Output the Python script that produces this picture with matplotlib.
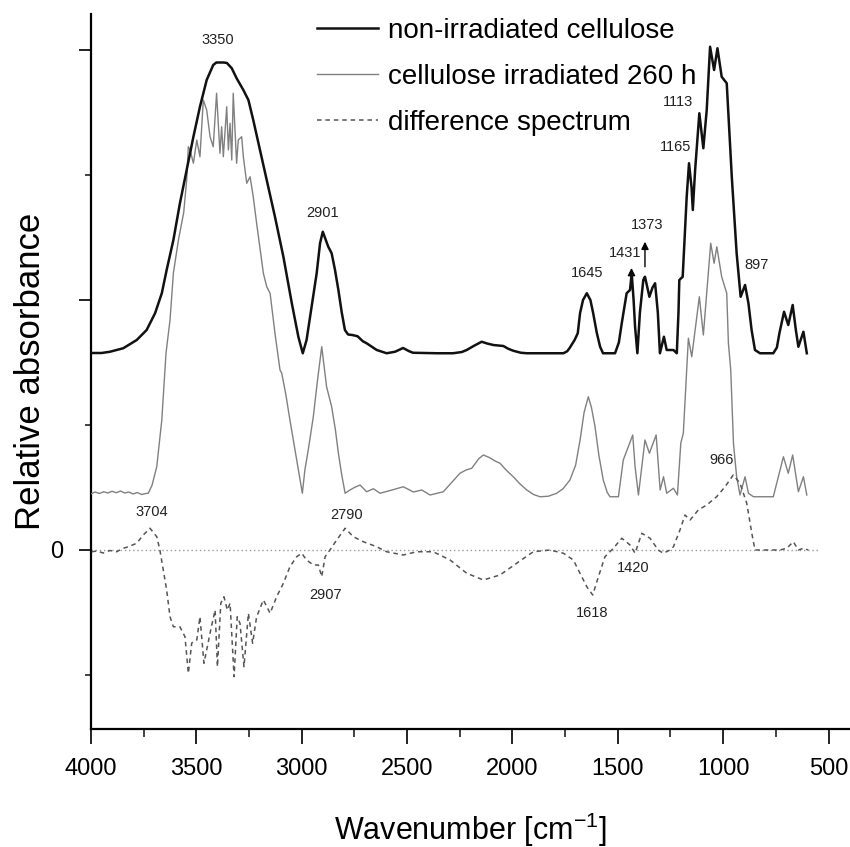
import matplotlib
matplotlib.use("Agg")
import matplotlib.pyplot as plt
from matplotlib.ticker import FixedLocator

plt.rcParams['font.family'] = ['Liberation Sans', 'DejaVu Sans']

# ---- data ----
wn_black = [4000, 3950, 3910, 3847, 3783, 3736, 3696, 3664, 3641, 3609, 3578, 3546, 3514, 3483,
            3451, 3420, 3405, 3390, 3370, 3355, 3332, 3309, 3277, 3253, 3230, 3198, 3166,
            3127, 3087, 3047, 3016, 2995, 2977, 2953, 2929, 2913, 2900, 2874, 2858, 2842,
            2826, 2810, 2795, 2780, 2760, 2735, 2710, 2692, 2644, 2597, 2557, 2519, 2490,
            2472, 2359, 2282, 2240, 2217, 2180, 2146, 2120, 2091, 2043, 2020, 1996, 1960,
            1932, 1758, 1740, 1727, 1705, 1690, 1679, 1665, 1647, 1630, 1617, 1600, 1584,
            1570, 1513, 1495, 1481, 1465, 1458, 1442, 1434, 1425, 1418, 1407, 1395, 1379,
            1371, 1360, 1350, 1335, 1323, 1310, 1300, 1281, 1268, 1236, 1220, 1212, 1208,
            1192, 1173, 1162, 1150, 1144, 1133, 1113, 1094, 1078, 1062, 1043, 1027, 1007,
            983, 959, 936, 917, 896, 880, 865, 849, 825, 762, 745, 733, 711, 691, 670, 655,
            643, 619, 603]
abs_black = [0.788, 0.788, 0.793, 0.807, 0.840, 0.880, 0.947, 1.027, 1.120, 1.240, 1.387,
             1.520, 1.653, 1.773, 1.880, 1.940, 1.950, 1.950, 1.950, 1.948, 1.927, 1.887,
             1.840, 1.800, 1.720, 1.600, 1.480, 1.333, 1.173, 0.987, 0.853, 0.787, 0.840,
             0.973, 1.107, 1.227, 1.273, 1.213, 1.187, 1.120, 1.040, 0.950, 0.880, 0.862,
             0.860, 0.855, 0.835, 0.827, 0.800, 0.787, 0.793, 0.808, 0.795, 0.789, 0.787,
             0.787, 0.792, 0.800, 0.818, 0.833, 0.826, 0.820, 0.816, 0.805, 0.797, 0.789,
             0.787, 0.787, 0.795, 0.810, 0.840, 0.867, 0.948, 1.000, 1.027, 1.000, 0.948,
             0.870, 0.813, 0.787, 0.787, 0.830, 0.908, 0.990, 1.027, 1.040, 1.107, 1.000,
             0.893, 0.787, 0.950, 1.080, 1.093, 1.050, 1.013, 1.050, 1.067, 0.950, 0.787,
             0.853, 0.800, 0.800, 0.787, 0.950, 1.080, 1.093, 1.413, 1.547, 1.450, 1.360,
             1.520, 1.747, 1.607, 1.760, 2.013, 1.920, 2.007, 1.893, 1.867, 1.493, 1.187,
             1.013, 1.060, 0.987, 0.880, 0.800, 0.787, 0.787, 0.810, 0.867, 0.953, 0.900,
             0.980, 0.880, 0.813, 0.873, 0.787]

wn_irr = [4000, 3980, 3960, 3940, 3920, 3900, 3880, 3860, 3840, 3820, 3800, 3780, 3760, 3740,
          3728, 3710, 3688, 3664, 3644, 3625, 3609, 3585, 3560, 3546, 3538, 3530, 3514, 3498,
          3483, 3467, 3451, 3435, 3420, 3404, 3388, 3380, 3372, 3356, 3348, 3340, 3332,
          3325, 3309, 3301, 3285, 3277, 3261, 3245, 3230, 3214, 3182, 3166, 3150, 3127,
          3103, 3095, 3075, 3056, 3040, 3024, 3010, 2997, 2985, 2969, 2945, 2925, 2905,
          2882, 2858, 2840, 2826, 2810, 2794, 2771, 2750, 2723, 2692, 2660, 2628, 2580,
          2518, 2470, 2430, 2391, 2328, 2249, 2220, 2193, 2160, 2138, 2110, 2080, 2059,
          2030, 1996, 1965, 1932, 1900, 1869, 1830, 1790, 1760, 1727, 1700, 1679, 1660,
          1640, 1625, 1608, 1590, 1569, 1550, 1537, 1497, 1474, 1450, 1429, 1418, 1402,
          1371, 1350, 1318, 1299, 1283, 1268, 1236, 1217, 1201, 1189, 1165, 1149, 1113,
          1094, 1059, 1043, 1030, 1007, 983, 975, 964, 951, 936, 920, 896, 880, 856, 762,
          738, 714, 691, 670, 643, 619, 603]
abs_irr = [0.225, 0.232, 0.226, 0.233, 0.228, 0.235, 0.229, 0.236, 0.228, 0.232, 0.224, 0.230,
           0.222, 0.226, 0.227, 0.260, 0.333, 0.520, 0.788, 0.920, 1.108, 1.240, 1.350, 1.480,
           1.613, 1.600, 1.547, 1.640, 1.573, 1.800, 1.760, 1.653, 1.613, 1.827, 1.587,
           1.693, 1.573, 1.773, 1.600, 1.707, 1.560, 1.827, 1.547, 1.640, 1.653, 1.573,
           1.467, 1.493, 1.413, 1.307, 1.107, 1.053, 1.027, 0.867, 0.720, 0.708, 0.620,
           0.520, 0.440, 0.360, 0.290, 0.227, 0.320, 0.400, 0.533, 0.680, 0.813, 0.653,
           0.573, 0.480, 0.387, 0.300, 0.227, 0.240, 0.250, 0.260, 0.233, 0.245, 0.227,
           0.238, 0.253, 0.232, 0.240, 0.220, 0.233, 0.307, 0.320, 0.327, 0.365, 0.380,
           0.370, 0.355, 0.347, 0.320, 0.293, 0.265, 0.240, 0.222, 0.213, 0.215, 0.227,
           0.245, 0.280, 0.340, 0.440, 0.550, 0.613, 0.570, 0.493, 0.380, 0.280, 0.230,
           0.213, 0.213, 0.360, 0.413, 0.460, 0.333, 0.220, 0.440, 0.387, 0.460, 0.240,
           0.293, 0.227, 0.247, 0.220, 0.427, 0.467, 0.847, 0.773, 1.013, 0.860, 1.227,
           1.147, 1.213, 1.093, 1.027, 0.827, 0.720, 0.427, 0.293, 0.220, 0.293, 0.227,
           0.213, 0.213, 0.293, 0.373, 0.307, 0.380, 0.233, 0.293, 0.220]

wn_diff = [3997, 3970, 3943, 3910, 3878, 3850, 3823, 3783, 3752, 3720, 3688, 3673, 3657, 3641,
           3625, 3609, 3578, 3554, 3538, 3522, 3498, 3483, 3464, 3448, 3432, 3411, 3400,
           3384, 3369, 3353, 3340, 3321, 3306, 3293, 3274, 3253, 3233, 3214, 3182, 3150,
           3119, 3087, 3056, 3024, 3000, 2977, 2945, 2921, 2905, 2889, 2866, 2834, 2794,
           2755, 2707, 2644, 2597, 2518, 2454, 2376, 2296, 2217, 2138, 2059, 1980, 1901,
           1822, 1758, 1711, 1671, 1647, 1619, 1592, 1561, 1521, 1481, 1442, 1418, 1386,
           1347, 1308, 1284, 1252, 1236, 1205, 1181, 1157, 1118, 1078, 1031, 991, 952, 920,
           888, 864, 849, 793, 730, 698, 667, 643, 619, 596]
abs_diff = [-0.007, -0.004, -0.012, -0.002, -0.007, 0.006, 0.013, 0.027, 0.060, 0.087, 0.053,
            0.000, -0.080, -0.160, -0.267, -0.307, -0.307, -0.347, -0.493, -0.372, -0.360,
            -0.267, -0.453, -0.387, -0.320, -0.240, -0.467, -0.213, -0.187, -0.240, -0.213,
            -0.507, -0.267, -0.293, -0.467, -0.253, -0.373, -0.267, -0.200, -0.253, -0.187,
            -0.133, -0.067, -0.027, -0.013, -0.040, -0.060, -0.060, -0.107, -0.027, 0.000,
            0.040, 0.087, 0.053, 0.033, 0.013, -0.007, -0.020, -0.007, -0.007, -0.040,
            -0.093, -0.120, -0.100, -0.053, -0.007, 0.000, -0.013, -0.040, -0.107, -0.147,
            -0.180, -0.107, -0.027, 0.007, 0.047, 0.020, -0.013, 0.067, 0.047, 0.000, -0.013,
            0.000, 0.013, 0.080, 0.140, 0.120, 0.160, 0.180, 0.213, 0.253, 0.300, 0.267,
            0.187, 0.067, 0.000, 0.000, 0.000, 0.007, 0.033, 0.000, 0.007, 0.000]

zero_line_wn = [4000, 550]

legend_labels = ["non-irradiated cellulose", "cellulose irradiated 260 h", "difference spectrum"]

peak_labels = ["3350", "2901", "1645", "1431", "1373", "1165", "1113", "897",
               "3704", "2790", "2907", "1618", "1420", "966"]
peak_label_wn = [3397, 2901, 1647, 1466, 1363, 1228, 1213, 841,
                 3712, 2787, 2889, 1624, 1426, 1007]
peak_label_val = [2.04, 1.347, 1.108, 1.188, 1.30, 1.613, 1.793, 1.14,
                  0.153, 0.14, -0.18, -0.253, -0.073, 0.36]

arrow_wn = [1435, 1371]
arrow_tip = [1.128, 1.233]
arrow_base = [1.06, 1.133]

x_major = [4000, 3500, 3000, 2500, 2000, 1500, 1000, 500]
x_minor = [3750, 3250, 2750, 2250, 1750, 1250, 750]

# ---- figure ----
fig = plt.figure(figsize=(8.5, 8.47), dpi=100)
ax = fig.add_axes([91/850, 1 - 728.5/847, (850 - 91)/850, (728.5 - 14)/847])

l1, = ax.plot(wn_black, abs_black, color='#111111', lw=1.8, label=legend_labels[0], zorder=4,
              solid_joinstyle='round')
l2, = ax.plot(wn_irr, abs_irr, color='#808080', lw=1.0, label=legend_labels[1], zorder=3)
l3, = ax.plot(wn_diff, abs_diff, color='#555555', lw=1.1, ls=(0, (3, 2.5)),
              label=legend_labels[2], zorder=3)
ax.plot(zero_line_wn, [0, 0], color='#9a9a9a', lw=1.0, ls=(0, (1, 2)), zorder=2)

for t, x, y in zip(peak_labels, peak_label_wn, peak_label_val):
    ax.text(x, y, t, ha='center', va='center', fontsize=10.5, color='#222222')

for x, yt, yb in zip(arrow_wn, arrow_tip, arrow_base):
    ax.annotate('', xy=(x, yt), xytext=(x, yb),
                arrowprops=dict(arrowstyle='-|>', color='black', lw=1.0,
                                mutation_scale=11, shrinkA=0, shrinkB=0))

ax.set_xlim(4000, 398)
ax.set_ylim(-0.714, 2.144)

ax.spines['top'].set_visible(False)
ax.spines['right'].set_visible(False)
ax.spines['left'].set_linewidth(1.6)
ax.spines['bottom'].set_linewidth(1.6)

ax.xaxis.set_major_locator(FixedLocator(x_major))
ax.xaxis.set_minor_locator(FixedLocator(x_minor))
ax.set_xticklabels([str(v) for v in x_major])
ax.set_yticks([0, 1, 2])
ax.set_yticklabels(['0', '', ''])
ax.yaxis.set_minor_locator(FixedLocator([-0.5, 0.5, 1.5]))

ax.tick_params(axis='x', which='major', direction='out', length=11, width=1.4,
               labelsize=17, pad=10, color='#222222')
ax.tick_params(axis='x', which='minor', direction='out', length=6, width=1.2, color='#222222')
ax.tick_params(axis='y', which='major', direction='out', length=9, width=1.4,
               labelsize=17, pad=11, color='#222222')
ax.tick_params(axis='y', which='minor', direction='out', length=4, width=1.2, color='#222222')

ax.set_xlabel("Wavenumber [cm$^{\\mathregular{-1}}$]", fontsize=22, labelpad=22)
ax.set_ylabel("Relative absorbance", fontsize=25)
ax.yaxis.set_label_coords(-0.058, 0.5)

fig.legend(handles=[l1, l2, l3], loc='upper left', bbox_to_anchor=(317/850, 1 - 18/847),
           frameon=False, fontsize=20, handlelength=2.2, handletextpad=0.35,
           labelspacing=0.72, borderpad=0, borderaxespad=0)

fig.savefig("out.png", dpi=100)
